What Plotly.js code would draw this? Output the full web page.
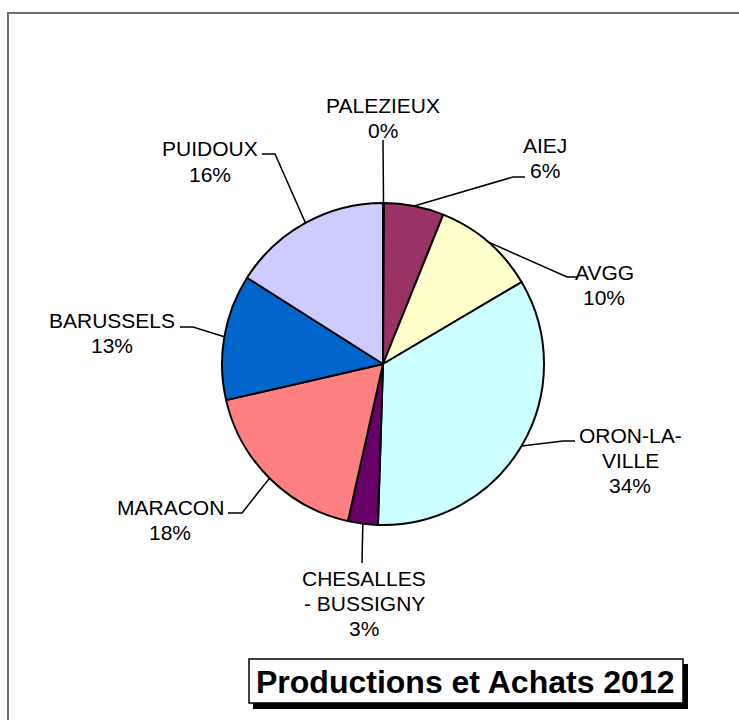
<!DOCTYPE html>
<html>
<head>
<meta charset="utf-8">
<script src="https://cdn.plot.ly/plotly-3.0.1.min.js"></script>
<style>html,body{margin:0;padding:0;background:#fff;}#chart{width:739px;height:720px;}</style>
</head>
<body>
<div id="chart"></div>
<script>
// ---- data ----
const labels = ["PALEZIEUX", "AIEJ", "AVGG", "ORON-LA-VILLE", "CHESALLES - BUSSIGNY", "MARACON", "BARUSSELS", "PUIDOUX"];
const labelLines = [["PALEZIEUX"], ["AIEJ"], ["AVGG"], ["ORON-LA-", "VILLE"], ["CHESALLES", "- BUSSIGNY"], ["MARACON"], ["BARUSSELS"], ["PUIDOUX"]];
const values = [0.1, 6.0, 10.4, 34.0, 3.0, 17.9, 12.6, 16.0];
const colors = ["#9999FF", "#993366", "#FFFFCC", "#CCFFFF", "#660066", "#FF8080", "#0066CC", "#CCCCFF"];
const chartTitle = "Productions et Achats 2012";

// ---- layout (pixels) ----
const W = 739, H = 720;
const cx = 383, cy = 364, R = 161;
const labelCenters = [[383,104.5],[545,144.5],[604,271],[630,434.5],[364,577.5],[170,506.5],[112,319],[210,148]];
const lineGap = 25;
const leaderBends = [[383,140],[513,177],[567,277],[563,441],[362,563],[242,513],[193,327],[275,154]];
const leaderEnds  = [[383,140],[525,177],[577,277],[575,441],[362,563],[228,513],[180,327],[262,154]];
const FONT = "'Liberation Sans', Arial, sans-serif";

const px = x => x / W;
const py = y => 1 - y / H;

const total = values.reduce((a, b) => a + b, 0);
let cum = 0;
const shapes = [];
const annotations = [];

// frame
shapes.push({type:'rect', xref:'paper', yref:'paper', x0:px(8), x1:px(W+20), y0:py(H+20), y1:py(13),
  line:{color:'#6e6e6e', width:2}, fillcolor:'rgba(0,0,0,0)', layer:'below'});

values.forEach((v, i) => {
  const mid = (cum + v / 2) / total * 2 * Math.PI;
  cum += v;
  const sx = cx + R * Math.sin(mid), sy = cy - R * Math.cos(mid);
  const b = leaderBends[i], e = leaderEnds[i];
  shapes.push({type:'path', xref:'paper', yref:'paper',
    path:`M ${px(sx)},${py(sy)} L ${px(b[0])},${py(b[1])} L ${px(e[0])},${py(e[1])}`,
    line:{color:'#000', width:1.5}});
  const lines = labelLines[i].concat([Math.round(v / total * 100) + "%"]);
  lines.forEach((t, k) => {
    annotations.push({xref:'paper', yref:'paper', x:px(labelCenters[i][0]), y:py(labelCenters[i][1] + k*lineGap + 1),
      text:t, showarrow:false, xanchor:'center', yanchor:'middle',
      font:{family:FONT, size:21, color:'#000'}});
  });
});

// title box with shadow
shapes.push({type:'rect', xref:'paper', yref:'paper', x0:px(253), x1:px(688), y0:py(709), y1:py(664),
  line:{width:0}, fillcolor:'#000'});
shapes.push({type:'rect', xref:'paper', yref:'paper', x0:px(249), x1:px(683), y0:py(703), y1:py(659),
  line:{color:'#000', width:1.5}, fillcolor:'#fff'});
annotations.push({xref:'paper', yref:'paper', x:px(465), y:py(682), text:'<b>'+chartTitle+'</b>', showarrow:false,
  xanchor:'center', yanchor:'middle', font:{family:FONT, size:32, color:'#000'}});

const trace = {
  type:'pie', labels:labels, values:values, sort:false, direction:'clockwise', rotation:0,
  marker:{colors:colors, line:{color:'#000', width:2}},
  textinfo:'none', hoverinfo:'label+percent', showlegend:false, automargin:false,
  domain:{x:[px(cx-R), px(cx+R)], y:[py(cy+R), py(cy-R)]}
};

Plotly.newPlot('chart', [trace], {
  width:W, height:H, margin:{l:0,r:0,t:0,b:0}, paper_bgcolor:'#fff', showlegend:false,
  shapes:shapes, annotations:annotations
}, {displayModeBar:false, staticPlot:true});
</script>
</body>
</html>
